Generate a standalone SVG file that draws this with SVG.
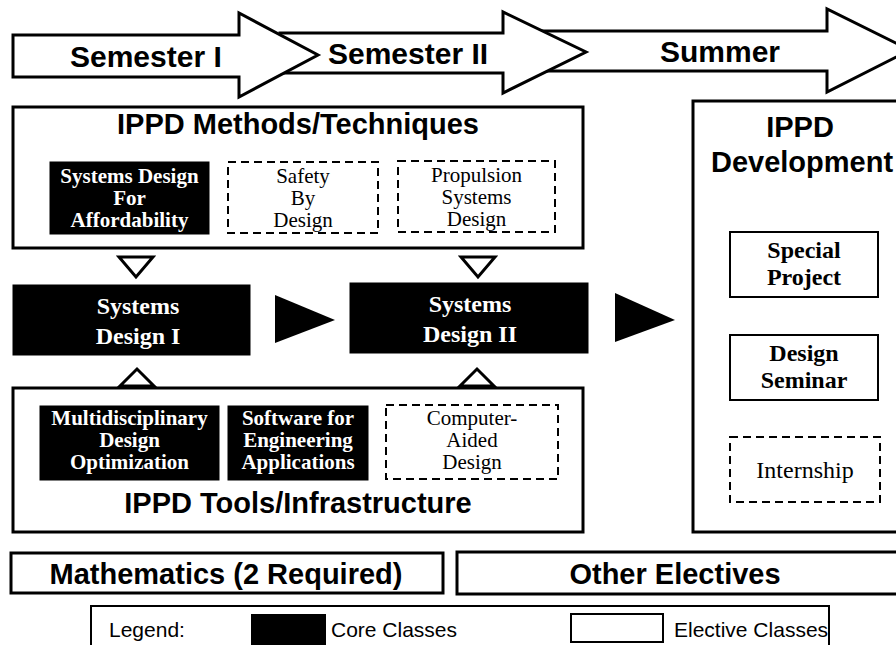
<svg xmlns="http://www.w3.org/2000/svg" width="896" height="645" viewBox="0 0 896 645">
<style>
.frame{fill:#fff;stroke:#000;stroke-width:3}
.core{fill:#000;stroke:#000;stroke-width:1}
.elec{fill:#fff;stroke:#000;stroke-width:2;stroke-dasharray:8 5}
.solid{fill:#fff;stroke:#000;stroke-width:2}
.big{font-family:"Liberation Sans",Arial,sans-serif;font-weight:bold;font-size:29px;fill:#000}
.sem{font-family:"Liberation Sans",Arial,sans-serif;font-weight:bold;font-size:30px;fill:#000}
.cw{font-family:"Liberation Serif","Times New Roman",serif;font-weight:bold;font-size:21px;fill:#fff;text-anchor:middle}
.ew{font-family:"Liberation Serif","Times New Roman",serif;font-size:21px;fill:#000;text-anchor:middle}
.sd{font-family:"Liberation Serif","Times New Roman",serif;font-weight:bold;font-size:24px;fill:#fff;text-anchor:middle}
.dv{font-family:"Liberation Serif","Times New Roman",serif;font-weight:bold;font-size:24px;fill:#000;text-anchor:middle}
.dr{font-family:"Liberation Serif","Times New Roman",serif;font-size:24px;fill:#000;text-anchor:middle}
.lg{font-family:"Liberation Sans",Arial,sans-serif;font-size:21px;fill:#000}
.mid{text-anchor:middle}
.hollow{fill:#fff;stroke:#000;stroke-width:3;stroke-linejoin:miter}
.solidtri{fill:#000;stroke:none}
</style>
<rect width="896" height="645" fill="#fff"/>

<g id="timeline">
  <g id="summer">
    <polygon class="frame" points="540,31 827,31 827,9 910,50 827,92 827,71 540,71"/>
    <text class="sem" x="660" y="62">Summer</text>
  </g>
  <g id="semester2">
    <polygon class="frame" points="280,33 503,33 503,12 586,52 503,93 503,73 280,73"/>
    <text class="sem" x="328" y="64">Semester II</text>
  </g>
  <g id="semester1">
    <polygon class="frame" points="13,35 239,35 239,13 318,55 239,97 239,77 13,77"/>
    <text class="sem" x="70" y="67">Semester I</text>
  </g>
</g>

<g id="methods">
  <rect class="frame" x="13" y="107" width="570" height="141"/>
  <text class="big mid" x="298" y="134">IPPD Methods/Techniques</text>
  <g id="sdfa">
    <rect class="core" x="50" y="162" width="159" height="72"/>
    <text class="cw" x="129.5" y="183">Systems Design</text>
    <text class="cw" x="129.5" y="205">For</text>
    <text class="cw" x="129.5" y="227">Affordability</text>
  </g>
  <g id="safety">
    <rect class="elec" x="228" y="162" width="150" height="71"/>
    <text class="ew" x="303" y="183">Safety</text>
    <text class="ew" x="303" y="205">By</text>
    <text class="ew" x="303" y="227">Design</text>
  </g>
  <g id="propulsion">
    <rect class="elec" x="398" y="161" width="157" height="71"/>
    <text class="ew" x="476.5" y="182">Propulsion</text>
    <text class="ew" x="476.5" y="204">Systems</text>
    <text class="ew" x="476.5" y="226">Design</text>
  </g>
</g>

<g id="sd1">
  <rect class="core" x="13" y="285" width="237" height="70"/>
  <text class="sd" x="138" y="314">Systems</text>
  <text class="sd" x="138" y="344">Design I</text>
</g>
<g id="sd2">
  <rect class="core" x="350" y="283" width="238" height="70"/>
  <text class="sd" x="470" y="312">Systems</text>
  <text class="sd" x="470" y="342">Design II</text>
</g>

<g id="tools">
  <rect class="frame" x="13" y="388" width="570" height="144"/>
  <g id="mdo">
    <rect class="core" x="40" y="406" width="179" height="74"/>
    <text class="cw" x="129.5" y="425">Multidisciplinary</text>
    <text class="cw" x="129.5" y="447">Design</text>
    <text class="cw" x="129.5" y="469">Optimization</text>
  </g>
  <g id="software">
    <rect class="core" x="228" y="406" width="140" height="74"/>
    <text class="cw" x="298" y="425">Software for</text>
    <text class="cw" x="298" y="447">Engineering</text>
    <text class="cw" x="298" y="469">Applications</text>
  </g>
  <g id="cad">
    <rect class="elec" x="386" y="405" width="172" height="74"/>
    <text class="ew" x="472" y="425">Computer-</text>
    <text class="ew" x="472" y="447">Aided</text>
    <text class="ew" x="472" y="469">Design</text>
  </g>
  <text class="big mid" x="298" y="513">IPPD Tools/Infrastructure</text>
</g>

<g id="development">
  <rect class="frame" x="693" y="101" width="220" height="431"/>
  <text class="big mid" x="800" y="137">IPPD</text>
  <text class="big mid" x="802" y="172" font-size="30">Development</text>
  <g id="special">
    <rect class="solid" x="730" y="232" width="148" height="65"/>
    <text class="dv" x="804" y="258">Special</text>
    <text class="dv" x="804" y="285">Project</text>
  </g>
  <g id="seminar">
    <rect class="solid" x="730" y="335" width="148" height="65"/>
    <text class="dv" x="804" y="361">Design</text>
    <text class="dv" x="804" y="388">Seminar</text>
  </g>
  <g id="internship">
    <rect class="elec" x="730" y="437" width="150" height="65"/>
    <text class="dr" x="805" y="478">Internship</text>
  </g>
</g>

<g id="connectors">
  <polygon class="hollow" points="119,257 153,257 136,277"/>
  <polygon class="hollow" points="461,257 495,257 478,277"/>
  <polygon class="hollow" points="120,386 154,386 137,369"/>
  <polygon class="hollow" points="460,386 494,386 477,369"/>
  <polygon class="solidtri" points="275,295 335,320 275,343"/>
  <polygon class="solidtri" points="615,293 675,320 615,342"/>
</g>

<g id="math">
  <rect class="frame" x="11" y="553" width="432" height="40"/>
  <text class="big mid" x="226" y="584" font-size="28">Mathematics (2 Required)</text>
</g>
<g id="electives">
  <rect class="frame" x="457" y="552" width="450" height="42"/>
  <text class="big mid" x="675" y="584" font-size="28">Other Electives</text>
</g>

<g id="legend">
  <rect class="solid" x="91" y="606" width="738" height="50"/>
  <text class="lg" x="109" y="637">Legend:</text>
  <rect x="251" y="614" width="75" height="31" fill="#000"/>
  <text class="lg" x="331" y="637">Core Classes</text>
  <rect class="solid" x="571" y="614" width="92" height="28"/>
  <text class="lg" x="674" y="637">Elective Classes</text>
</g>
</svg>
